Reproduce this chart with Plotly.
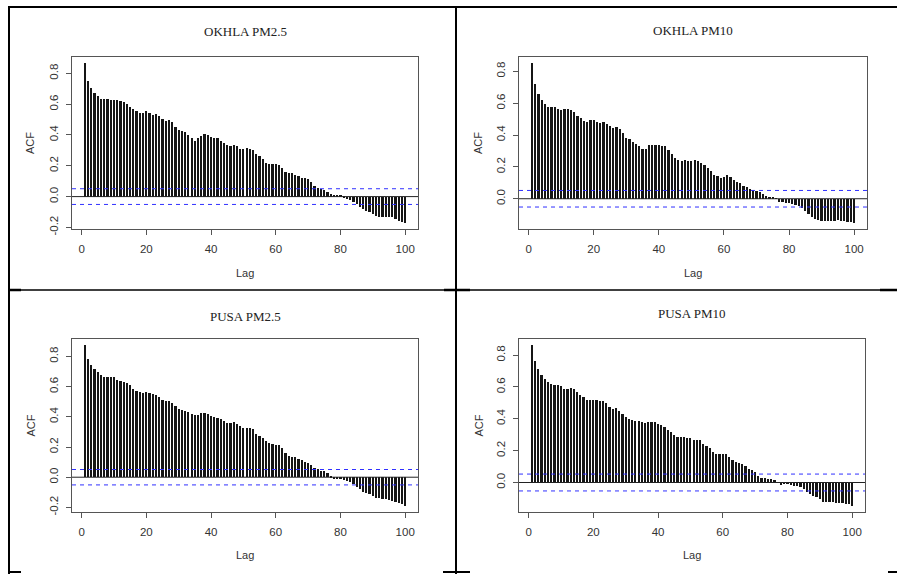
import plotly.graph_objects as go

# ---------------- data ----------------
lags = list(range(1, 101))

okhla_pm25 = [0.865, 0.752, 0.703, 0.675, 0.653, 0.636, 0.631, 0.633, 0.627, 0.629,
              0.627, 0.620, 0.612, 0.600, 0.584, 0.569, 0.556, 0.540, 0.545, 0.556,
              0.540, 0.530, 0.536, 0.523, 0.504, 0.493, 0.497, 0.482, 0.454, 0.432,
              0.428, 0.420, 0.400, 0.383, 0.363, 0.378, 0.396, 0.406, 0.398, 0.385,
              0.378, 0.383, 0.363, 0.350, 0.337, 0.329, 0.335, 0.329, 0.309, 0.309,
              0.314, 0.309, 0.303, 0.277, 0.264, 0.242, 0.216, 0.210, 0.210, 0.210,
              0.205, 0.184, 0.160, 0.154, 0.154, 0.143, 0.134, 0.123, 0.123, 0.115,
              0.093, 0.069, 0.058, 0.050, 0.043, 0.032, 0.017, 0.013, 0.011, 0.009,
              -0.004, -0.013, -0.022, -0.032, -0.048, -0.069, -0.082, -0.091, -0.100, -0.112,
              -0.125, -0.130, -0.130, -0.130, -0.130, -0.134, -0.147, -0.156, -0.162, -0.169]

okhla_pm10 = [0.850, 0.720, 0.658, 0.620, 0.596, 0.579, 0.575, 0.573, 0.563, 0.558,
              0.565, 0.565, 0.558, 0.542, 0.520, 0.504, 0.490, 0.481, 0.492, 0.496,
              0.481, 0.475, 0.479, 0.470, 0.454, 0.444, 0.448, 0.438, 0.413, 0.381,
              0.377, 0.358, 0.344, 0.329, 0.313, 0.313, 0.340, 0.340, 0.335, 0.335,
              0.333, 0.329, 0.304, 0.281, 0.256, 0.242, 0.240, 0.246, 0.240, 0.240,
              0.242, 0.235, 0.225, 0.210, 0.194, 0.173, 0.148, 0.142, 0.131, 0.138,
              0.152, 0.135, 0.117, 0.104, 0.096, 0.083, 0.073, 0.060, 0.054, 0.050,
              0.042, 0.027, 0.017, 0.010, 0.006, -0.001, -0.021, -0.023, -0.025, -0.029,
              -0.033, -0.040, -0.046, -0.056, -0.077, -0.094, -0.115, -0.125, -0.133, -0.140,
              -0.142, -0.140, -0.140, -0.138, -0.135, -0.138, -0.142, -0.144, -0.144, -0.150]

pusa_pm25 = [0.873, 0.780, 0.740, 0.714, 0.696, 0.676, 0.663, 0.663, 0.663, 0.663,
             0.647, 0.636, 0.629, 0.627, 0.609, 0.587, 0.574, 0.565, 0.558, 0.565,
             0.556, 0.552, 0.547, 0.532, 0.512, 0.503, 0.507, 0.492, 0.470, 0.452,
             0.445, 0.441, 0.430, 0.419, 0.412, 0.414, 0.423, 0.428, 0.419, 0.403,
             0.397, 0.392, 0.383, 0.370, 0.361, 0.357, 0.363, 0.352, 0.337, 0.328,
             0.328, 0.326, 0.321, 0.288, 0.275, 0.259, 0.237, 0.228, 0.219, 0.215,
             0.213, 0.193, 0.160, 0.140, 0.135, 0.135, 0.122, 0.115, 0.104, 0.091,
             0.080, 0.064, 0.055, 0.042, 0.038, 0.027, 0.007, -0.007, -0.009, -0.011,
             -0.016, -0.024, -0.035, -0.047, -0.062, -0.078, -0.095, -0.106, -0.113, -0.122,
             -0.135, -0.140, -0.144, -0.146, -0.151, -0.157, -0.166, -0.173, -0.180, -0.188]

pusa_pm10 = [0.861, 0.762, 0.714, 0.678, 0.653, 0.632, 0.619, 0.615, 0.611, 0.605,
             0.590, 0.590, 0.594, 0.588, 0.569, 0.552, 0.535, 0.519, 0.519, 0.521,
             0.519, 0.514, 0.510, 0.500, 0.475, 0.464, 0.468, 0.451, 0.430, 0.412,
             0.401, 0.391, 0.388, 0.384, 0.378, 0.374, 0.380, 0.378, 0.380, 0.370,
             0.359, 0.346, 0.332, 0.317, 0.296, 0.288, 0.286, 0.283, 0.279, 0.277,
             0.269, 0.267, 0.269, 0.241, 0.231, 0.216, 0.191, 0.181, 0.178, 0.176,
             0.181, 0.160, 0.143, 0.128, 0.122, 0.115, 0.105, 0.084, 0.078, 0.063,
             0.038, 0.031, 0.027, 0.025, 0.023, 0.017, 0.000, -0.015, -0.010, -0.010,
             -0.015, -0.019, -0.023, -0.029, -0.042, -0.061, -0.071, -0.084, -0.092, -0.105,
             -0.120, -0.122, -0.122, -0.124, -0.126, -0.128, -0.130, -0.132, -0.134, -0.145]

titles = ["OKHLA PM2.5", "OKHLA PM10", "PUSA PM2.5", "PUSA PM10"]
series = [okhla_pm25, okhla_pm10, pusa_pm25, pusa_pm10]
conf_limits = [0.051, 0.052, 0.051, 0.053]
x_ticks = [0, 20, 40, 60, 80, 100]
y_ticks = [-0.2, 0.0, 0.2, 0.4, 0.6, 0.8]
y_tick_text = ["-0.2", "0.0", "0.2", "0.4", "0.6", "0.8"]
x_label = "Lag"
y_label = "ACF"

# ---------------- layout constants (pixels) ----------------
W, H = 897, 574
# plot boxes: left, right, top, bottom
boxes = [(72, 418, 57, 229), (519, 867, 57, 229), (72, 418, 339, 512), (519, 865, 339, 512)]
title_y = [32, 30, 316, 314]
lag_y = [273, 273, 555, 555]
acf_x = [30, 478, 30, 478]


def px(x):
    return x / W


def py(y):
    return 1 - y / H


fig = go.Figure()
layout = dict(
    width=W, height=H, margin=dict(l=0, r=0, t=0, b=0, autoexpand=False),
    paper_bgcolor="white", plot_bgcolor="white", showlegend=False,
    bargap=0,
)
shapes = []
annotations = []
tick_font = dict(family="Liberation Sans, Arial, sans-serif", size=11.5, color="#333")
lab_font = dict(family="Liberation Sans, Arial, sans-serif", size=11, color="#333")
title_font = dict(family="Liberation Serif, Times New Roman, serif", size=13, color="#222")

for i, (vals, ttl, cl, box) in enumerate(zip(series, titles, conf_limits, boxes)):
    n = i + 1
    xa = "x" if n == 1 else f"x{n}"
    ya = "y" if n == 1 else f"y{n}"
    l, r, t, b = box
    fig.add_trace(go.Bar(x=lags, y=vals, xaxis=xa, yaxis=ya, width=0.68,
                         marker=dict(color="#151515", line=dict(width=0)),
                         hoverinfo="x+y"))
    # R-style ranges: 4% extension
    xmin, xmax = min(lags), max(lags)
    xr = xmax - xmin
    ymin = min(min(vals), -cl)
    ymax = max(max(vals), cl)
    yrng = ymax - ymin
    axis_common = dict(showgrid=False, zeroline=False, showline=True, mirror=True,
                       linecolor="#555", linewidth=1, ticks="outside", ticklen=5,
                       tickcolor="#555", tickwidth=1, tickfont=tick_font, automargin=False)
    layout["xaxis" if n == 1 else f"xaxis{n}"] = dict(
        axis_common, domain=[px(l), px(r)], anchor=ya,
        range=[xmin - 0.04 * xr, xmax + 0.04 * xr],
        tickvals=x_ticks, ticktext=[str(v) for v in x_ticks], ticklabelstandoff=4)
    layout["yaxis" if n == 1 else f"yaxis{n}"] = dict(
        axis_common, domain=[py(b), py(t)], anchor=xa,
        range=[ymin - 0.04 * yrng, ymax + 0.04 * yrng],
        tickvals=y_ticks, ticktext=y_tick_text, tickangle=-90, ticklabelstandoff=3)
    # zero line and confidence bands
    shapes.append(dict(type="line", xref=f"{xa} domain", yref=ya, x0=0, x1=1, y0=0, y1=0,
                       line=dict(color="#222", width=1)))
    for s in (cl, -cl):
        shapes.append(dict(type="line", xref=f"{xa} domain", yref=ya, x0=0, x1=1, y0=s, y1=s,
                           line=dict(color="#3030ff", width=1, dash="4px,4px")))
    cx = px((l + r) / 2)
    annotations.append(dict(text=ttl, x=cx, y=py(title_y[i]), xref="paper", yref="paper",
                            showarrow=False, font=title_font, xanchor="center", yanchor="middle"))
    annotations.append(dict(text=x_label, x=cx, y=py(lag_y[i]), xref="paper", yref="paper",
                            showarrow=False, font=lab_font, xanchor="center", yanchor="middle"))
    annotations.append(dict(text=y_label, x=px(acf_x[i]), y=py((t + b) / 2), xref="paper",
                            yref="paper", showarrow=False, font=lab_font, textangle=-90,
                            xanchor="center", yanchor="middle"))

# page frame lines (table borders)
frame = [
    (8, 7, 897, 7, 2),      # top
    (9, 7, 9, 574, 2),      # left
    (456, 7, 456, 574, 2),  # middle vertical
    (8, 290, 897, 290, 1.3),  # middle horizontal
    (8, 290, 21, 290, 2.5),
    (444, 290, 470, 290, 2.5),
    (880, 290, 897, 290, 2.5),
    (8, 572, 21, 572, 2),
    (443, 572, 470, 572, 2),
    (888, 572, 897, 572, 2),
]
for x0, y0, x1, y1, w in frame:
    shapes.append(dict(type="line", xref="paper", yref="paper", x0=px(x0), y0=py(y0),
                       x1=px(x1), y1=py(y1), line=dict(color="black", width=w)))

layout["shapes"] = shapes
layout["annotations"] = annotations
fig.update_layout(**layout)
fig.write_html("out.html", config={"displayModeBar": False},
               post_script="document.body.style.margin='0';document.body.style.overflow='hidden';")
